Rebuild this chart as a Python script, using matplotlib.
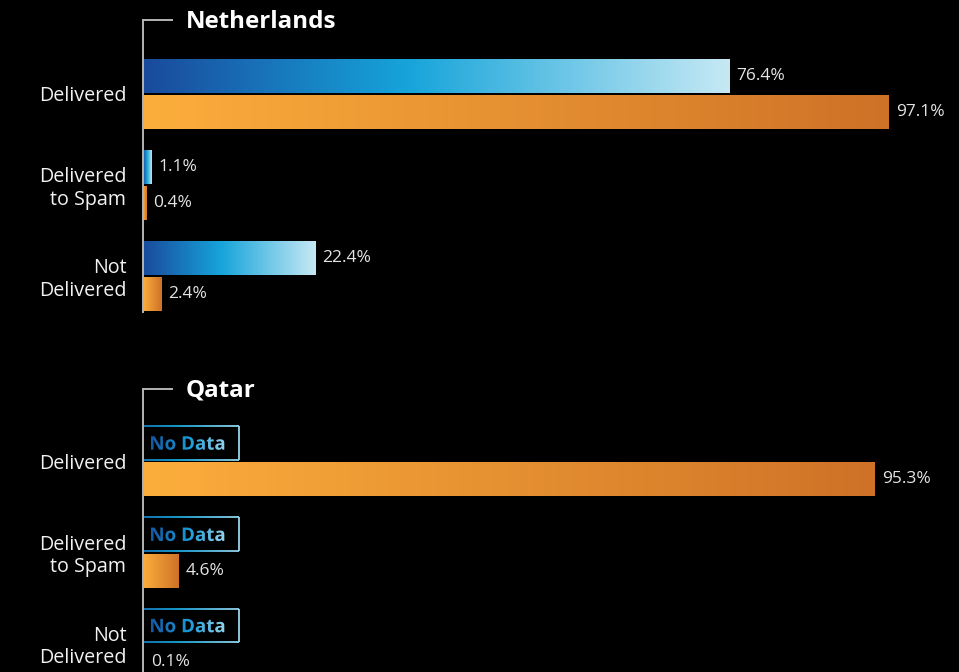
"""
Email deliverability by country: inbox placement for two mailbox providers,
drawn as paired horizontal gradient bars on a dark background.
"""
import numpy as np
import matplotlib
matplotlib.use("Agg")
import matplotlib.pyplot as plt
from matplotlib.colors import LinearSegmentedColormap
from matplotlib.collections import LineCollection
from matplotlib.patches import PathPatch
from matplotlib.textpath import TextPath
from matplotlib.font_manager import FontProperties
from matplotlib.transforms import Affine2D, ScaledTranslation

BG        = "#000000"
TEXT      = "#f2f2f2"
VALUE_TXT = "#e4e4e4"
AXIS      = "#b4b4b4"
FONT      = ["Open Sans", "DejaVu Sans"]

categories = ["Delivered", "Delivered\nto Spam", "Not\nDelivered"]
countries  = ["Netherlands", "Qatar"]
# first series (blue) / second series (orange), percent of messages
blue_vals   = {"Netherlands": [76.4, 1.1, 22.4], "Qatar": [None, None, None]}
orange_vals = {"Netherlands": [97.1, 0.4, 2.4], "Qatar": [95.3, 4.6, 0.1]}

BLUE_CMAP = LinearSegmentedColormap.from_list(
    "blue", [(0, "#1a4a9c"), (0.45, "#16a4da"), (1, "#c6e9f4")])
ORANGE_CMAP = LinearSegmentedColormap.from_list(
    "orange", [(0, "#fcae3c"), (1, "#ce7227")])

W, H = 959, 672
BAR_H = 0.37
OFF = 0.2
GRAD = np.linspace(0, 1, 256).reshape(1, -1)
PX = 100 / (911 - 143)   # data units per pixel along x


def gradient_bar(ax, y, value, cmap):
    ax.imshow(GRAD, cmap=cmap, aspect="auto", interpolation="bicubic",
              extent=(0, value, y + BAR_H / 2, y - BAR_H / 2), zorder=2)
    ax.annotate(f"{value}%", (value, y), xytext=(5, 0), textcoords="offset points",
                ha="left", va="center", color=VALUE_TXT, fontsize=12.5,
                family=FONT)


def no_data_box(ax, fig, y):
    # outline with a left-to-right blue gradient
    x0, x1 = 0.0, 96 * PX
    y0, y1 = y - BAR_H / 2, y + BAR_H / 2
    xs = np.linspace(x0, x1, 60)
    segs, cols = [], []
    for a, b in zip(xs[:-1], xs[1:]):
        t = (a - x0) / (x1 - x0)
        for yy in (y0, y1):
            segs.append([(a, yy), (b, yy)])
            cols.append(BLUE_CMAP(0.25 + 0.6 * t))
    segs.append([(x0, y0), (x0, y1)])
    cols.append(BLUE_CMAP(0.2))
    segs.append([(x1, y0), (x1, y1)])
    cols.append(BLUE_CMAP(0.85))
    ax.add_collection(LineCollection(segs, colors=cols, linewidths=1.3, zorder=3))

    # "No Data" filled with the same gradient via a clipped image
    prop = FontProperties(family="Open Sans", weight="bold")
    tp = TextPath((0, 0), "No Data", size=13.5, prop=prop)
    ext = tp.get_extents()
    th = ext.height * fig.dpi / 72
    trans = (Affine2D().translate(-ext.x0, 0).scale(fig.dpi / 72)
             + Affine2D().translate(0, -th / 2)
             + ScaledTranslation(8 * PX, y, ax.transData))
    patch = PathPatch(tp, transform=trans, facecolor="none", edgecolor="none")
    ax.add_patch(patch)
    im = ax.imshow(GRAD, cmap=LinearSegmentedColormap.from_list(
        "txt", ["#1458a4", "#1a9ad6", "#9ad6ee"]), aspect="auto",
        extent=(8 * PX, 84 * PX, y + 0.15, y - 0.15), zorder=4)
    im.set_clip_path(patch)


fig = plt.figure(figsize=(W / 100, H / 100), dpi=100)
fig.patch.set_facecolor(BG)

# panel frames in pixels: (top, bottom, ylim top, ylim bottom)
panels = [(20, 312, -0.813, 2.396), (389, 672, -0.79, 2.31)]
left_px, right_px = 143, 911

for country, (top, bot, yt, yb) in zip(countries, panels):
    ax = fig.add_axes([left_px / W, 1 - bot / H, (right_px - left_px) / W, (bot - top) / H])
    ax.set_facecolor(BG)
    for i in range(len(categories)):
        b = blue_vals[country][i]
        o = orange_vals[country][i]
        if b is None:
            no_data_box(ax, fig, i - OFF)
        else:
            gradient_bar(ax, i - OFF, b, BLUE_CMAP)
        gradient_bar(ax, i + OFF, o, ORANGE_CMAP)

    ax.set_xlim(0, 100)
    ax.set_ylim(yb, yt)
    for s in ("top", "right", "bottom"):
        ax.spines[s].set_visible(False)
    ax.spines["left"].set_color(AXIS)
    ax.spines["left"].set_linewidth(1.4)
    ax.spines["left"].set_zorder(5)
    ax.set_xticks([])
    ax.set_yticks(range(len(categories)))
    ax.set_yticklabels(categories, color=TEXT, fontsize=14.2, family=FONT,
                       linespacing=1.15)
    ax.tick_params(axis="y", length=0, pad=12)

    # bracket at the top of the axis and the country heading
    ax.plot([0, 30 * PX], [yt, yt], color=AXIS,
            lw=1.4, clip_on=False, solid_capstyle="butt")
    ax.text(43 * PX, yt + 0.02, country, color="white",
            fontsize=17.4, fontweight="bold", family=FONT, ha="left", va="center")

fig.savefig("out.png", facecolor=BG)
